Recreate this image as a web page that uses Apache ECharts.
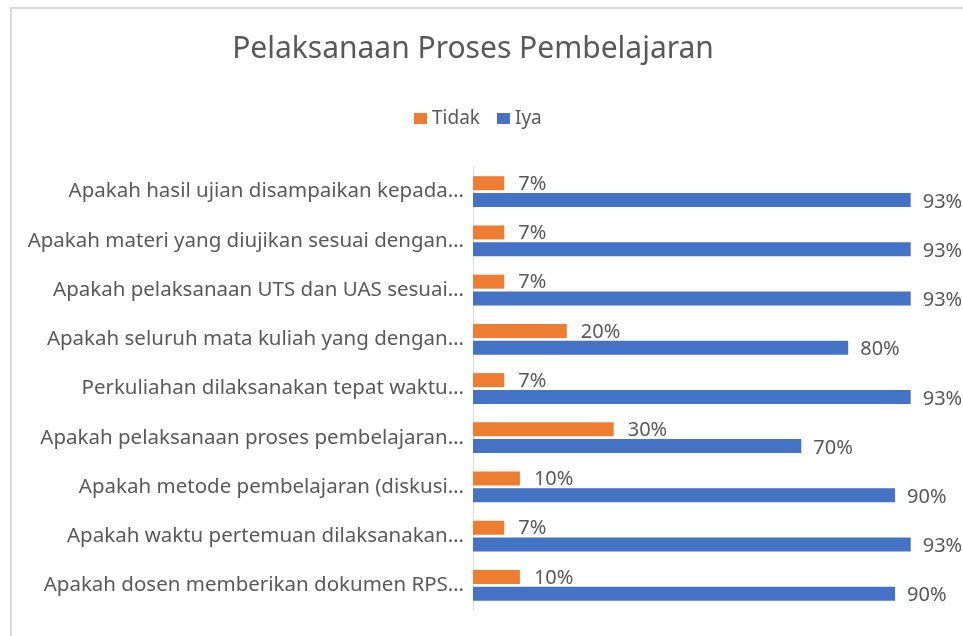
<!DOCTYPE html>
<html>
<head>
<meta charset="utf-8">
<script src="https://cdn.jsdelivr.net/npm/echarts@6/dist/echarts.min.js"></script>
<style>
  html, body { margin: 0; padding: 0; background: #fff; }
  #main { width: 963px; height: 636px; }
</style>
</head>
<body>
<div id="main"></div>
<script>
// kategori dari bawah ke atas (urutan sumbu kategori)
var categories = [
  'Apakah dosen memberikan dokumen RPS…',
  'Apakah waktu pertemuan dilaksanakan…',
  'Apakah metode pembelajaran (diskusi…',
  'Apakah pelaksanaan proses pembelajaran…',
  'Perkuliahan dilaksanakan tepat waktu…',
  'Apakah seluruh mata kuliah yang dengan…',
  'Apakah pelaksanaan UTS dan UAS sesuai…',
  'Apakah materi yang diujikan sesuai dengan…',
  'Apakah hasil ujian disampaikan kepada…'
];
var tidak = [10, 6.67, 10, 30, 6.67, 20, 6.67, 6.67, 6.67];
var iya = [90, 93.33, 90, 70, 93.33, 80, 93.33, 93.33, 93.33];
var legendNames = ['Tidak', 'Iya'];

var textColor = '#595959';
var fontName = 'Noto Sans';

var myChart = echarts.init(document.getElementById('main'));

var option = {
  backgroundColor: '#fff',
  animation: false,
  textStyle: { fontFamily: fontName },
  graphic: [{
    type: 'rect',
    shape: { x: 11, y: 8, width: 1000, height: 700 },
    style: { fill: 'none', stroke: '#d9d9d9', lineWidth: 2 }
  }],
  title: {
    text: 'Pelaksanaan Proses Pembelajaran',
    left: 468,
    top: 29,
    textAlign: 'center',
    textStyle: { color: textColor, fontSize: 30, fontWeight: 'normal', fontFamily: fontName }
  },
  legend: {
    data: legendNames,
    left: 409,
    top: 104,
    itemWidth: 13,
    itemHeight: 11,
    itemGap: 17,
    icon: 'rect',
    textStyle: { color: textColor, fontSize: 19, fontFamily: fontName }
  },
  grid: {
    left: 473,
    right: 21,
    top: 167,
    bottom: 26,
    containLabel: false
  },
  xAxis: {
    type: 'value',
    min: 0,
    max: 100,
    show: false
  },
  yAxis: {
    type: 'category',
    data: categories,
    axisLine: { show: true, lineStyle: { color: '#d9d9d9', width: 1 } },
    axisTick: { show: false },
    axisLabel: { color: textColor, fontSize: 20.5, margin: 9, fontFamily: fontName }
  },
  series: [
    {
      name: 'Tidak',
      type: 'bar',
      data: tidak,
      barWidth: 14,
      barGap: '20%',
      itemStyle: { color: '#ED7D31' },
      label: {
        show: true,
        position: 'right',
        distance: 14,
        offset: [0, 1],
        color: textColor,
        fontSize: 20,
        fontFamily: fontName,
        formatter: function (p) { return Math.round(p.value) + '%'; }
      }
    },
    {
      name: 'Iya',
      type: 'bar',
      data: iya,
      barWidth: 14,
      barGap: '20%',
      itemStyle: { color: '#4472C4' },
      label: {
        show: true,
        position: 'right',
        distance: 12,
        offset: [0, 2],
        color: textColor,
        fontSize: 20,
        fontFamily: fontName,
        formatter: function (p) { return Math.round(p.value) + '%'; }
      }
    }
  ]
};

myChart.setOption(option);
</script>
</body>
</html>
